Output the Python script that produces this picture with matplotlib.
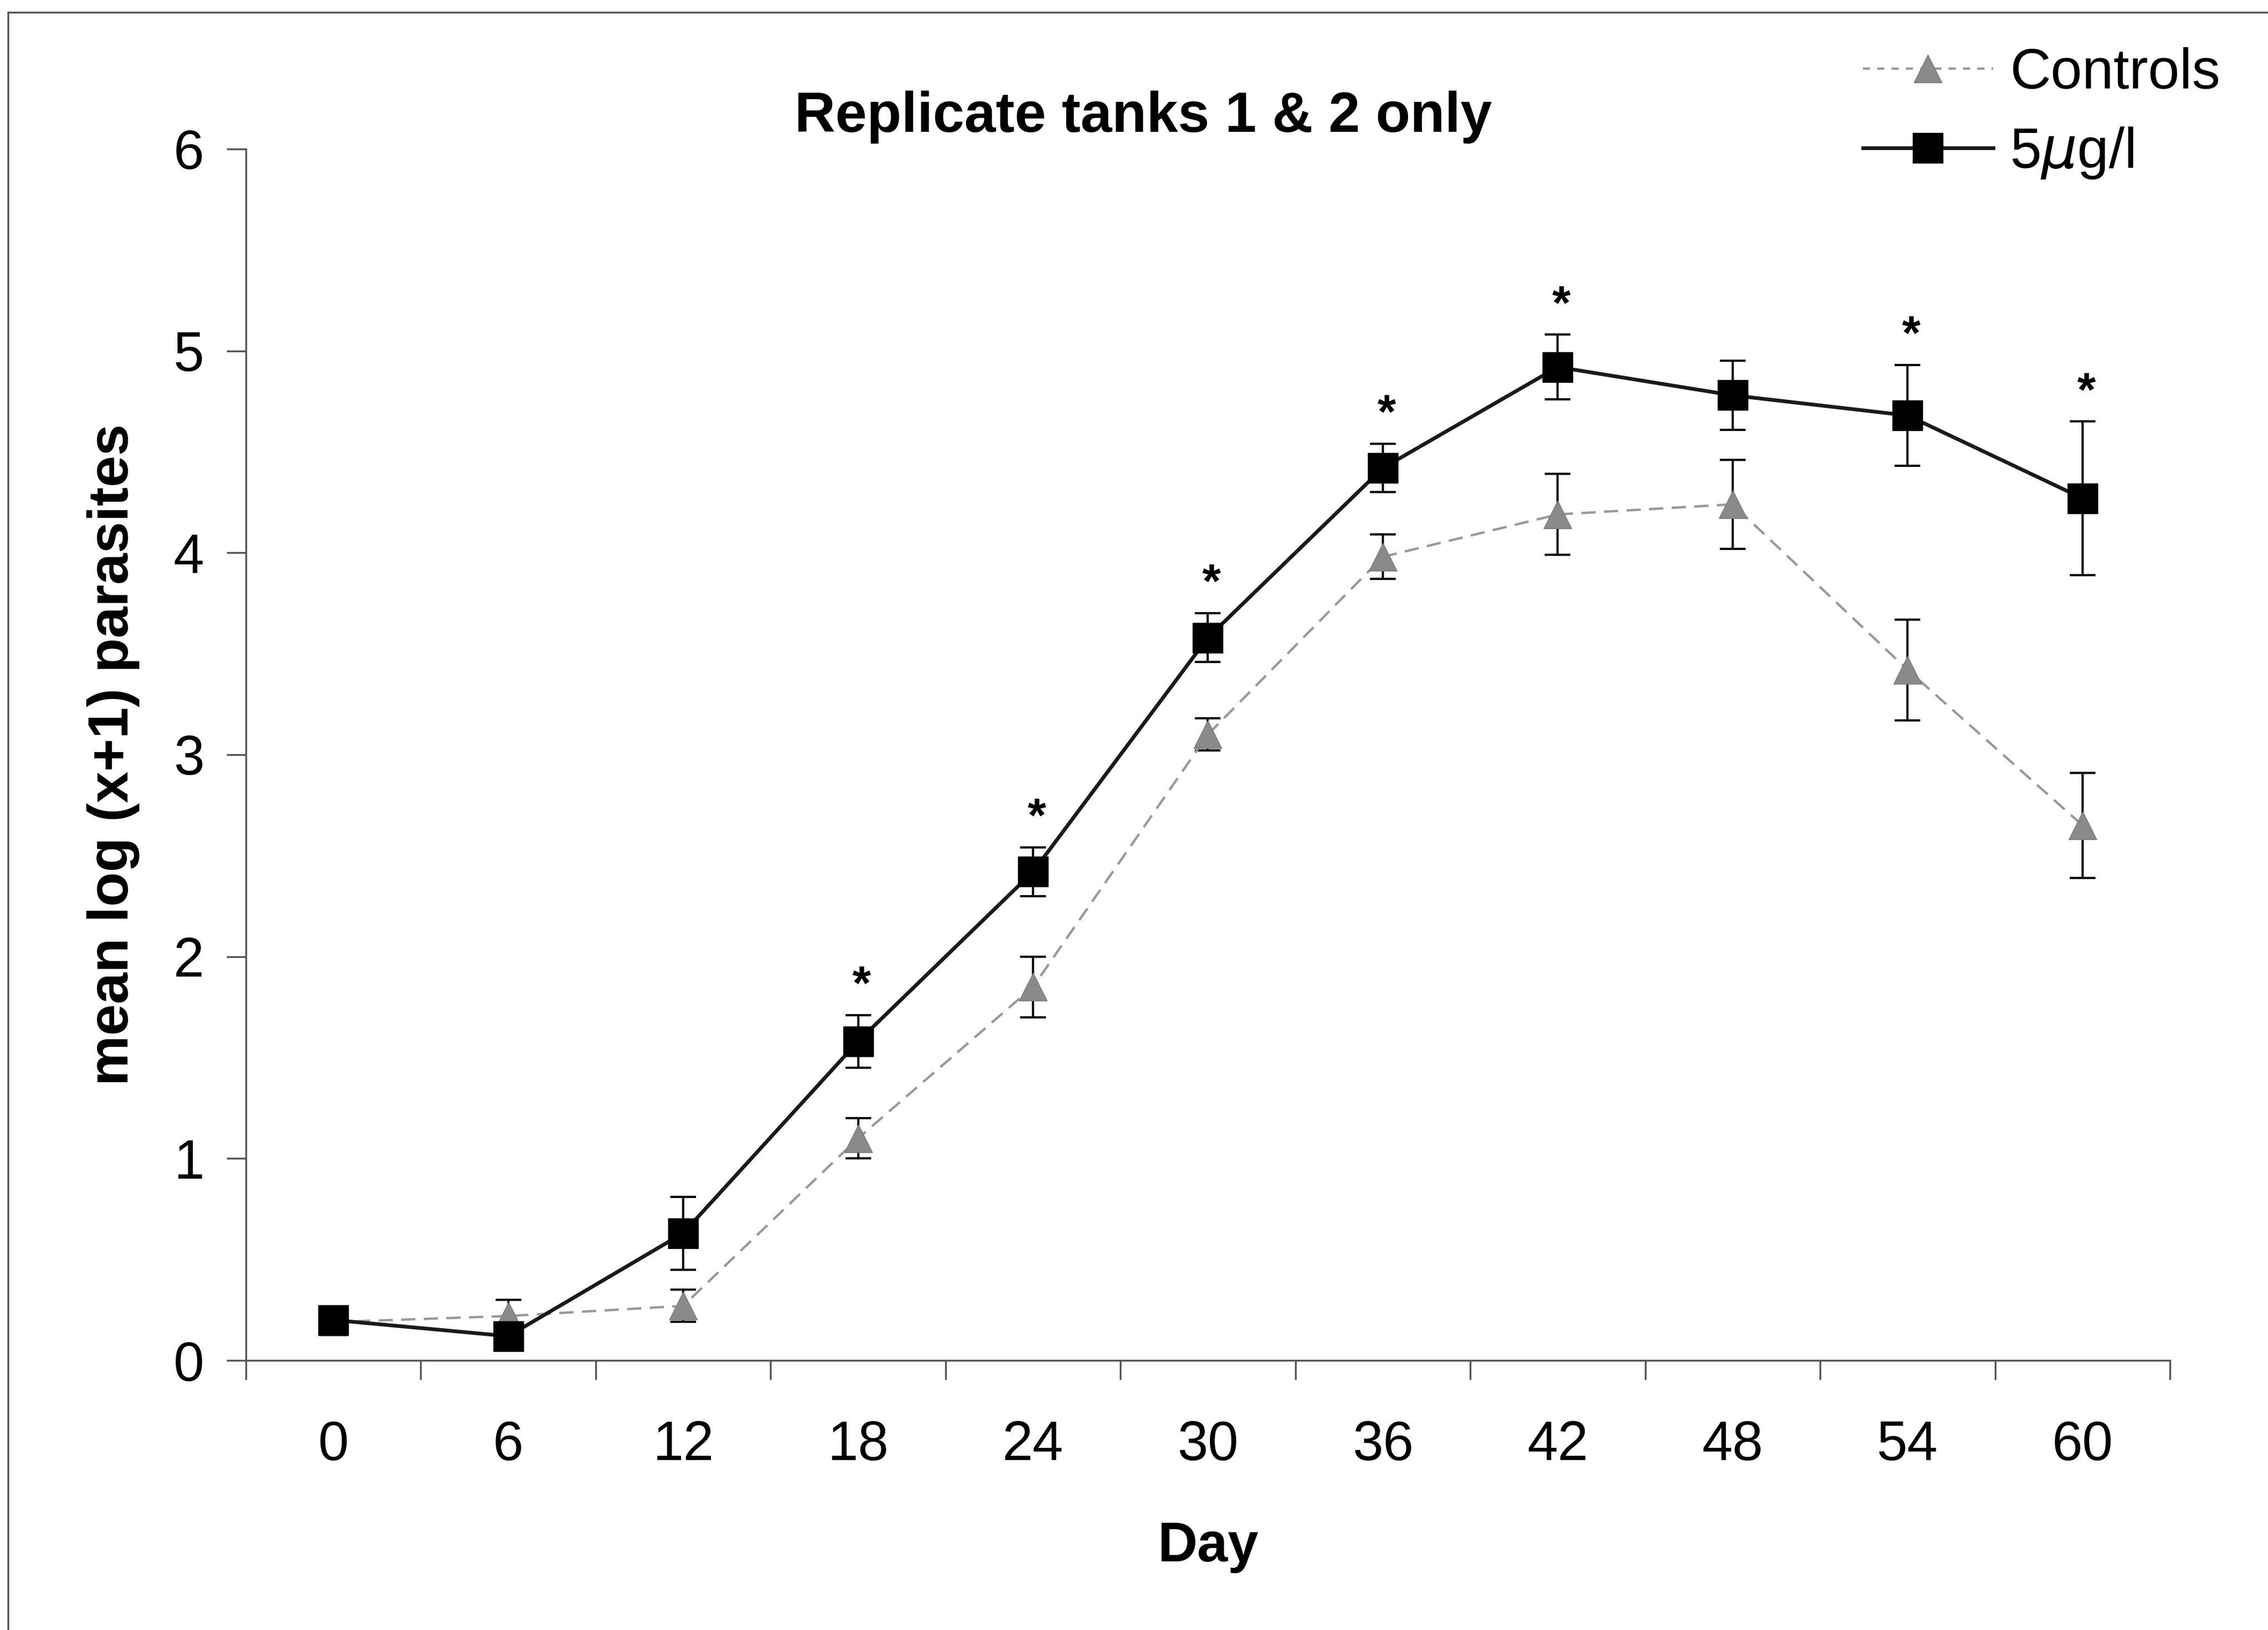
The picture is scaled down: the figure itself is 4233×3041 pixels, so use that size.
import matplotlib.pyplot as plt
from matplotlib.lines import Line2D
import numpy as np

plt.rcParams['font.family'] = ['Liberation Sans', 'DejaVu Sans']

days = ['0', '6', '12', '18', '24', '30', '36', '42', '48', '54', '60']
controls = [0.19, 0.22, 0.27, 1.10, 1.85, 3.10, 3.98, 4.19, 4.24, 3.42, 2.65]
controls_err = [0.04, 0.08, 0.08, 0.10, 0.15, 0.08, 0.11, 0.20, 0.22, 0.25, 0.26]
treated = [0.20, 0.12, 0.63, 1.58, 2.42, 3.58, 4.42, 4.92, 4.78, 4.68, 4.27]
treated_err = [0.05, 0.03, 0.18, 0.13, 0.12, 0.12, 0.12, 0.16, 0.17, 0.25, 0.38]
signif = [False, False, False, True, True, True, True, True, False, True, True]

x = np.arange(len(days))

fig = plt.figure(figsize=(42.33, 30.41), dpi=100)
ax = fig.add_axes([0.1084, 0.1654, 0.8484, 0.7432])

# chart area border (left / top visible in the scan)
fig.add_artist(Line2D([15/4233, 15/4233], [0, 1 - 23/3041], transform=fig.transFigure, color='#555555', lw=2.5))
fig.add_artist(Line2D([15/4233, 1], [1 - 23/3041, 1 - 23/3041], transform=fig.transFigure, color='#555555', lw=2.5))

ax.errorbar(x, controls, yerr=controls_err, fmt='none', ecolor='black', elinewidth=3, capsize=17, capthick=3, zorder=2)
ax.plot(x, controls, color='#999999', ls=(0, (6, 3.5)), lw=3.2, marker='^', ms=38,
        mfc='#8a8a8a', mec='#777777', zorder=3)

ax.errorbar(x, treated, yerr=treated_err, fmt='none', ecolor='black', elinewidth=3, capsize=17, capthick=3, zorder=4)
ax.plot(x, treated, color='#1a1a1a', lw=5, marker='s', ms=40, mfc='black', mec='black', zorder=5)

for xi, v, e, s in zip(x, treated, treated_err, signif):
    if s:
        ax.annotate('*', (xi, v + e), xytext=(5, 8), textcoords='offset points',
                    ha='center', va='bottom', fontsize=64, fontweight='bold')

ax.set_xlim(-0.5, len(days) - 0.5)
ax.set_ylim(0, 6)
ax.set_yticks(range(0, 7))
ax.set_xticks(x)
ax.set_xticklabels(days)
ax.set_xticks(np.arange(-0.5, len(days)), minor=True)
ax.tick_params(axis='x', which='major', length=0, pad=80, labelsize=74)
ax.tick_params(axis='x', which='minor', length=26, width=2.5, color='#555555', direction='out')
ax.tick_params(axis='y', length=26, width=2.5, color='#555555', pad=30, labelsize=74)

for side in ['top', 'right']:
    ax.spines[side].set_visible(False)
for side in ['left', 'bottom']:
    ax.spines[side].set_color('#555555')
    ax.spines[side].set_linewidth(2.5)

ax.set_xlabel('Day', fontsize=74, fontweight='bold', labelpad=66)
ax.set_ylabel('mean log (x+1) parasites', fontsize=76, fontweight='bold', labelpad=45)
fig.text(0.504, 0.928, 'Replicate tanks 1 & 2 only', fontsize=76, fontweight='bold',
         ha='center', va='center')

handles = [
    Line2D([], [], color='#999999', ls=(0, (3, 3)), lw=3.2, marker='^', ms=38, mfc='#8a8a8a', mec='#777777'),
    Line2D([], [], color='#1a1a1a', lw=5, marker='s', ms=40, mfc='black', mec='black'),
]
fig.legend(handles, ['Controls', '5$\\mu$g/l'], loc='upper right', bbox_to_anchor=(0.994, 0.992),
           frameon=False, fontsize=76, handlelength=2.3, handletextpad=0.3, labelspacing=0.45,
           borderpad=0.1)

fig.savefig('out.png', dpi=100, facecolor='white')
